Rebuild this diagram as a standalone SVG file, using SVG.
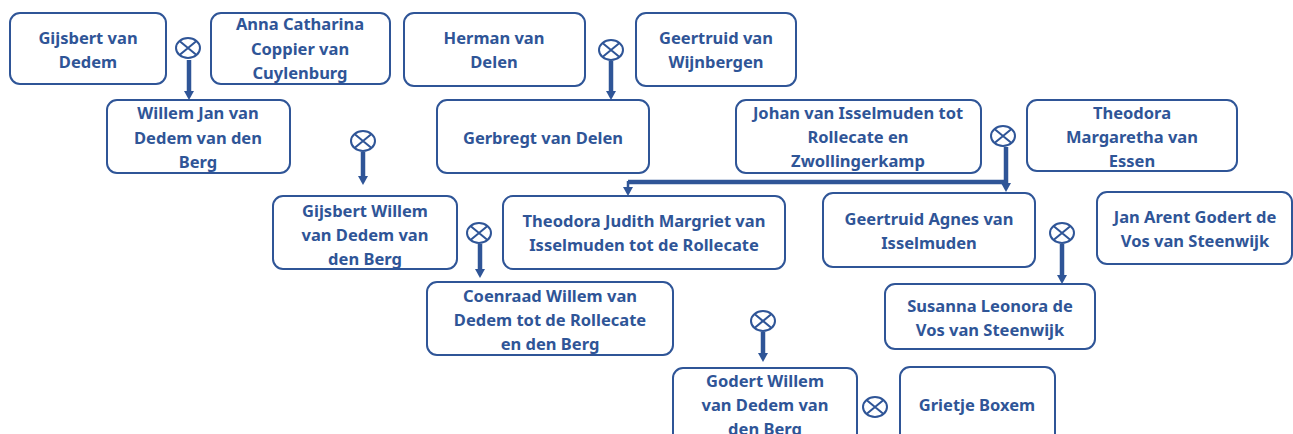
<svg xmlns="http://www.w3.org/2000/svg" width="1293" height="434" viewBox="0 0 1293 434">
<defs>
<style>
.box{fill:#ffffff;stroke:#2F5597;stroke-width:2}
.t{font-family:"Noto Sans","Liberation Sans",sans-serif;font-weight:bold;font-size:16.5px;fill:#2F5597;text-anchor:middle}
.c{stroke:#2F5597;stroke-width:4.5;fill:none}
.cthin{stroke:#2F5597;stroke-width:2.5;fill:none}
</style>
<marker id="ah" viewBox="0 -6 9 12" markerWidth="9" markerHeight="12" refX="0" refY="0" orient="auto" markerUnits="userSpaceOnUse">
<path d="M0,-5 L9,0 L0,5 z" fill="#2F5597"/>
</marker>
<g id="x">
<ellipse cx="0" cy="0" rx="12" ry="10" fill="#ffffff" stroke="#2F5597" stroke-width="2"/>
<path d="M-8.5,-7.1 L8.5,7.1 M-8.5,7.1 L8.5,-7.1" stroke="#2F5597" stroke-width="2" fill="none"/>
</g>
</defs>
<rect width="1293" height="434" fill="#ffffff"/>

<g id="connectors">
<path class="c" d="M189,60 V91" marker-end="url(#ah)"/>
<path class="c" d="M363,152 V176" marker-end="url(#ah)"/>
<path class="c" d="M611,61 V91" marker-end="url(#ah)"/>
<path class="c" d="M1006,147 V183" marker-end="url(#ah)"/>
<path class="c" d="M628,182 H1006"/>
<path class="cthin" d="M628,181 V187" marker-end="url(#ah)"/>
<path class="c" d="M480,244 V269" marker-end="url(#ah)"/>
<path class="c" d="M1062,244 V275" marker-end="url(#ah)"/>
<path class="c" d="M763,332 V353" marker-end="url(#ah)"/>
</g>

<g id="marriages">
<use href="#x" x="188" y="48"/>
<use href="#x" x="363" y="141"/>
<use href="#x" x="611" y="50"/>
<use href="#x" x="1003" y="136"/>
<use href="#x" x="479" y="233"/>
<use href="#x" x="1062" y="233"/>
<use href="#x" x="763" y="321"/>
<use href="#x" x="875" y="407"/>
</g>

<g id="n1"><rect class="box" x="10" y="13" width="156" height="71" rx="10"/>
<text class="t" x="88" y="44">Gijsbert van</text><text class="t" x="88" y="68">Dedem</text></g>

<g id="n2"><rect class="box" x="211" y="13" width="179" height="71" rx="10"/>
<text class="t" x="300" y="30">Anna Catharina</text><text class="t" x="300" y="55">Coppier van</text><text class="t" x="300" y="79">Cuylenburg</text></g>

<g id="n3"><rect class="box" x="107" y="100" width="183" height="73" rx="10"/>
<text class="t" x="198" y="119">Willem Jan van</text><text class="t" x="198" y="144">Dedem van den</text><text class="t" x="198" y="168">Berg</text></g>

<g id="n4"><rect class="box" x="404" y="13" width="181" height="73" rx="10"/>
<text class="t" x="494" y="44">Herman van</text><text class="t" x="494" y="68">Delen</text></g>

<g id="n5"><rect class="box" x="636" y="13" width="160" height="73" rx="10"/>
<text class="t" x="716" y="44">Geertruid van</text><text class="t" x="716" y="68">Wijnbergen</text></g>

<g id="n6"><rect class="box" x="437" y="100" width="212" height="73" rx="10"/>
<text class="t" x="543" y="144">Gerbregt van Delen</text></g>

<g id="n7"><rect class="box" x="736" y="100" width="245" height="73" rx="10"/>
<text class="t" x="858" y="119">Johan van Isselmuden tot</text><text class="t" x="858" y="143">Rollecate en</text><text class="t" x="858" y="167">Zwollingerkamp</text></g>

<g id="n8"><rect class="box" x="1027" y="100" width="210" height="71" rx="10"/>
<text class="t" x="1132" y="119">Theodora</text><text class="t" x="1132" y="143">Margaretha van</text><text class="t" x="1132" y="167">Essen</text></g>

<g id="n9"><rect class="box" x="273" y="196" width="184" height="73" rx="10"/>
<text class="t" x="365" y="217">Gijsbert Willem</text><text class="t" x="365" y="241">van Dedem van</text><text class="t" x="365" y="265">den Berg</text></g>

<g id="n10"><rect class="box" x="503" y="196" width="282" height="73" rx="10"/>
<text class="t" x="644" y="227">Theodora Judith Margriet van</text><text class="t" x="644" y="251">Isselmuden tot de Rollecate</text></g>

<g id="n11"><rect class="box" x="823" y="193" width="212" height="74" rx="10"/>
<text class="t" x="929" y="225">Geertruid Agnes van</text><text class="t" x="929" y="249">Isselmuden</text></g>

<g id="n12"><rect class="box" x="1097" y="192" width="195" height="72" rx="10"/>
<text class="t" x="1195" y="223">Jan Arent Godert de</text><text class="t" x="1195" y="247">Vos van Steenwijk</text></g>

<g id="n13"><rect class="box" x="427" y="282" width="246" height="73" rx="10"/>
<text class="t" x="550" y="302">Coenraad Willem van</text><text class="t" x="550" y="326">Dedem tot de Rollecate</text><text class="t" x="550" y="350">en den Berg</text></g>

<g id="n14"><rect class="box" x="885" y="284" width="210" height="65" rx="10"/>
<text class="t" x="990" y="312">Susanna Leonora de</text><text class="t" x="990" y="336">Vos van Steenwijk</text></g>

<g id="n15"><rect class="box" x="673" y="368" width="184" height="80" rx="10"/>
<text class="t" x="765" y="387">Godert Willem</text><text class="t" x="765" y="411">van Dedem van</text><text class="t" x="765" y="435">den Berg</text></g>

<g id="n16"><rect class="box" x="900" y="367" width="155" height="80" rx="10"/>
<text class="t" x="977" y="411">Grietje Boxem</text></g>
</svg>
